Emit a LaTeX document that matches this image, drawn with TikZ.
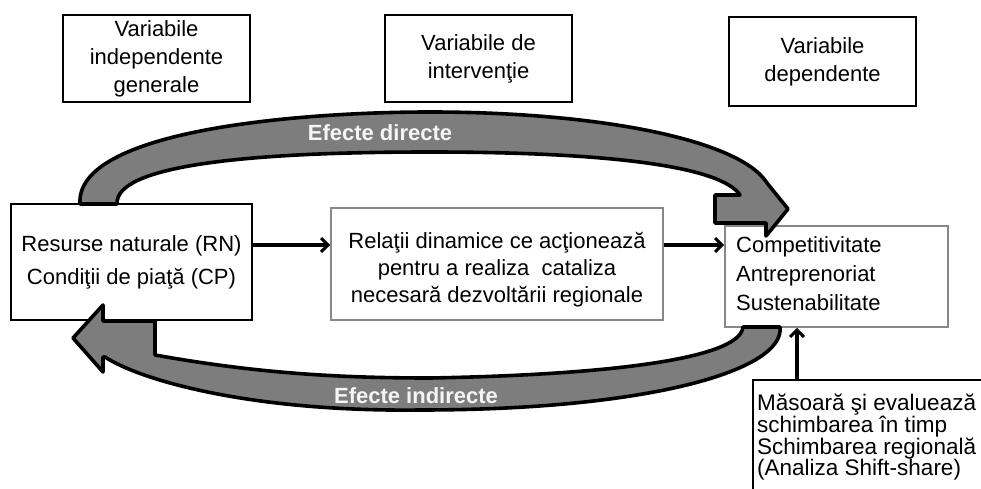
\documentclass[tikz,border=0pt]{standalone}
\usepackage{fontspec}
\setmainfont{Liberation Sans}
\usetikzlibrary{arrows.meta}
\definecolor{bandgray}{RGB}{125,125,125}
\definecolor{boxgray}{RGB}{135,135,135}
\definecolor{labelwhite}{RGB}{245,245,245}
\begin{document}
\begin{tikzpicture}[x=1pt,y=-1pt,
  txt/.style={font=\fontsize{22}{28}\selectfont, inner sep=0pt, align=center},
  topbox/.style={draw=black, line width=1.8pt, minimum width=187pt, minimum height=87pt, align=center, inner sep=0pt, font=\fontsize{22}{28}\selectfont},
  blackbox/.style={draw=black, line width=1.5pt},
  graybox/.style={draw=boxgray, line width=1.6pt},
  conn/.style={line width=3.6pt, -{Straight Barb[length=7pt,width=14pt,line width=3pt]}},
  band/.style={fill=bandgray, draw=black, line width=3.6pt, line join=round},
  bandtext/.style={font=\bfseries\fontsize{22}{26}\selectfont, text=labelwhite, inner sep=0pt}
]
\useasboundingbox (0,0) rectangle (981,489);
\clip (0,0) rectangle (981,489);
\fill[white] (0,0) rectangle (981,489);

% top header boxes
\node[topbox] (v1) at (156.5,58.5) {Variabile\\independente\\generale};
\node[topbox] (v2) at (478.5,58.5) {Variabile de\\intervenţie};
\node[topbox, minimum height=89pt] (v3) at (822.5,61.5) {Variabile\\dependente};

% main boxes
\node[blackbox, minimum width=241pt, minimum height=116pt] (lb) at (131.5,262) {};
\node[txt, font=\fontsize{22}{33}\selectfont] (lbt) at (131.5,262.5) {Resurse naturale (RN)\\Condiţii de piaţă (CP)};

\node[graybox, minimum width=332pt, minimum height=112pt] (mb) at (497,264) {};
\node[txt, font=\fontsize{22}{27}\selectfont] (mbt) at (497,270) {Relaţii dinamice ce acţionează\\pentru a realiza\ \ cataliza\\necesară dezvoltării regionale};

\node[graybox, minimum width=223pt, minimum height=101pt] (rb) at (836.5,276.5) {};
\node[txt, align=left, anchor=west, font=\fontsize{22}{29}\selectfont] (rbt) at (736,274) {Competitivitate\\Antreprenoriat\\Sustenabilitate};

\node[blackbox, minimum width=248pt, minimum height=120pt] (br) at (877,440) {};
\node[txt, align=left, anchor=west, font=\fontsize{22.5}{21}\selectfont] (brt) at (757,437) {Măsoară şi evaluează\\schimbarea în timp\\Schimbarea regională\\(Analiza Shift-share)};

% connectors
\coordinate (a1) at ([yshift=17pt]lb.east);
\draw[conn] (a1) -- (a1 -| mb.west);
\coordinate (a2) at ([yshift=19pt]mb.east);
\draw[conn] (a2) -- (a2 -| rb.west);
\coordinate (u1) at (797,380);
\draw[conn] (u1) -- (u1 |- rb.south);

% upper curved arrow (direct effects)
\filldraw[band] (80,204) .. controls (75,130) and (300,112) .. (430,112)
  .. controls (600,112) and (740,140) .. (767,183)
  -- (788,209) -- (766,236) -- (766,223) -- (715,223) -- (715,195) -- (740,195)
  .. controls (720,165) and (600,152) .. (430,152)
  .. controls (250,152) and (115,165) .. (117,204) -- cycle;
\node[bandtext] (ed) at (380,133) {Efecte directe};

% lower curved arrow (indirect effects)
\filldraw[band] (73,338) -- (103,305) -- (103,321) -- (155,321) -- (155,355)
  .. controls (250,372) and (330,378) .. (430,378)
  .. controls (600,375) and (740,360) .. (743,327) -- (780,327)
  .. controls (785,370) and (650,410) .. (420,410)
  .. controls (250,412) and (140,380) .. (105,357) -- (103,357) -- (103,372) -- cycle;
\node[bandtext] (ei) at (416,396) {Efecte indirecte};
\end{tikzpicture}
\end{document}
